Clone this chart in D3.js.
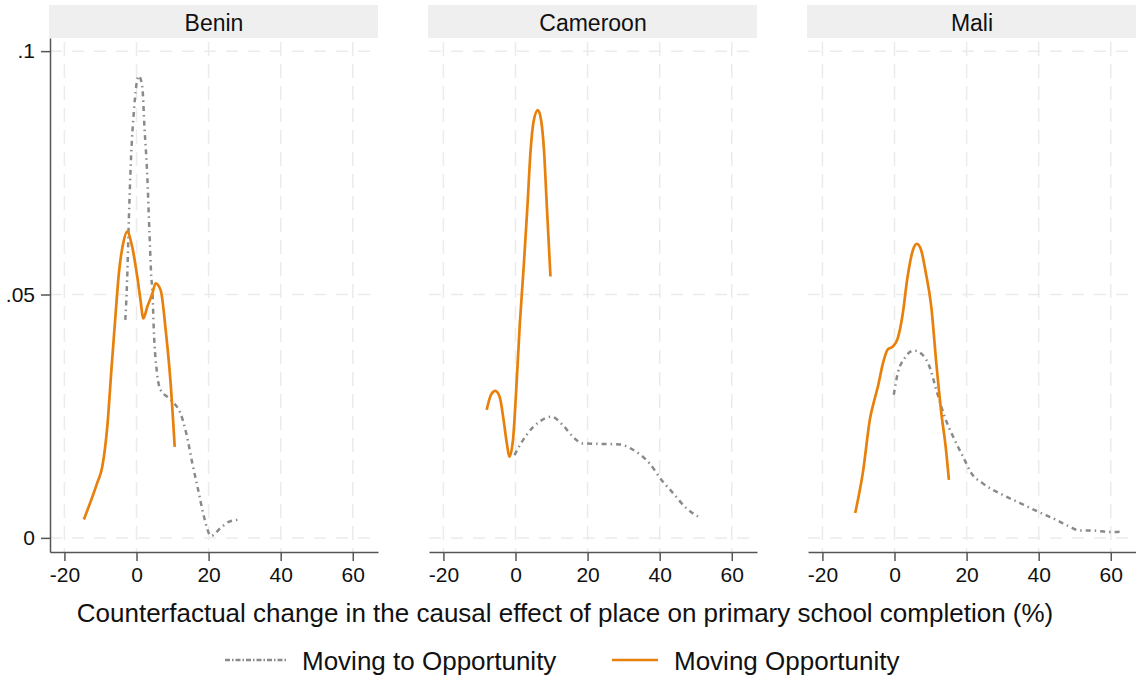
<!DOCTYPE html>
<html>
<head>
<meta charset="utf-8">
<script src="https://cdn.jsdelivr.net/npm/d3@7"></script>
<style>
  body { margin: 0; background: #fff; }
  svg { display: block; font-family: Arial, "Liberation Sans", sans-serif; }
</style>
</head>
<body>
<svg id="chart" width="1136" height="679"></svg>
<script>
// panel names and tick labels
const countries = ["Benin", "Cameroon", "Mali"];
const xTicks = [-20, 0, 20, 40, 60];
const yTicks = [0, 0.05, 0.1];
const yTickLabels = ["0", ".05", ".1"];
const seriesNames = ["Moving to Opportunity", "Moving Opportunity"];
const xTitle = "Counterfactual change in the causal effect of place on primary school completion (%)";

// density curves, [x, density]
const beninMto = [[-3.1, .0448], [-2.6, .053], [-2.1, .066], [-1.5, .0783], [-0.7, .0879], [-0.1, .0927],
  [0.65, .0949], [1.6, .0927], [2.2, .0845], [3.0, .0742], [3.6, .0626], [4.1, .0537], [4.4, .0509],
  [4.8, .0427], [5.7, .0338], [6.7, .0304], [8.5, .029], [10.4, .0277], [12.2, .0256], [13.8, .0215],
  [15.5, .0153], [17.3, .0092], [18.7, .0044], [20.7, .0004], [23.3, .002], [25.6, .0033], [28.0, .0037]];
const beninMo = [[-14.6, .0038], [-10.9, .0113], [-9.5, .0146], [-8.1, .0229], [-6.9, .0352], [-5.8, .046],
  [-4.9, .0543], [-3.7, .0605], [-2.6, .0629], [-1.2, .0598], [0.2, .0537], [1.1, .0489], [1.9, .0451],
  [3.0, .0475], [4.4, .0502], [5.3, .0523], [6.7, .0509], [8.1, .0427], [9.4, .0324], [10.6, .0187]];

const cameroonMto = [[-0.3, .017], [3.0, .0211], [6.7, .0239], [9.9, .0249], [13.1, .0232], [15.9, .0208],
  [18.7, .0194], [24.3, .0193], [28.9, .0192], [32.6, .0181], [37.2, .0153], [40.5, .0119], [43.7, .0092],
  [47.4, .0061], [50.6, .0044]];
const cameroonMo = [[-8.0, .0263], [-6.8, .0294], [-5.6, .0302], [-4.4, .029], [-3.3, .0242], [-2.4, .0194],
  [-1.7, .0167], [-0.7, .0201], [0.2, .0304], [1.2, .0440], [2.3, .0560], [3.3, .068], [4.2, .0797],
  [5.0, .0855], [6.2, .0879], [7.1, .0858], [7.9, .0797], [8.7, .068], [9.7, .0537]];

const maliMto = [[-0.2, .0294], [0.9, .0338], [2.8, .0369], [5.3, .0385], [7.8, .0376], [9.7, .0352],
  [11.6, .0304], [13.9, .0249], [16.7, .0201], [19.0, .0167], [21.3, .0133], [24.5, .0112], [30.1, .0088],
  [34.7, .0072], [39.8, .0054], [44.9, .0037], [48.6, .0023], [51.4, .0015], [55.1, .0015], [59.7, .0012],
  [63.4, .0013]];
const maliMo = [[-10.9, .0051], [-8.8, .0133], [-6.7, .0249], [-5.6, .0283], [-4.6, .0311], [-3.2, .0359],
  [-1.9, .0387], [-0.5, .0393], [0.9, .041], [2.3, .0461], [3.5, .053], [5.1, .0591], [6.2, .0604],
  [7.4, .0591], [8.6, .0548], [10.2, .0475], [11.6, .0359], [13.0, .0256], [14.2, .0187],
  [15.1, .0119]];

const mtoSeries = [beninMto, cameroonMto, maliMto];
const moSeries = [beninMo, cameroonMo, maliMo];

const gray = "#8a8a8a";
const orange = "#e8800c";
const gridColor = "#ebebeb";

const svg = d3.select("#chart");
const panelLeft = [50, 429, 808];
const panelW = 328;
const plotTop = 38, plotBottom = 552;

const y = d3.scaleLinear().domain([-0.0029, 0.1027]).range([plotBottom, plotTop]);

countries.forEach((name, i) => {
  const x0 = panelLeft[i];
  const x = d3.scaleLinear().domain([-24, 67]).range([x0, x0 + panelW]);
  const g = svg.append("g");

  // strip
  g.append("rect")
    .attr("x", x0 - 1).attr("y", 5)
    .attr("width", panelW + 1).attr("height", 33)
    .attr("fill", "#efefef");
  g.append("text")
    .attr("x", x0 + panelW / 2).attr("y", 30.5)
    .attr("text-anchor", "middle")
    .attr("font-size", 23)
    .attr("fill", "#111")
    .text(name);

  // grid
  g.selectAll(".hg").data(yTicks).enter().append("line")
    .attr("x1", x0).attr("x2", x0 + panelW)
    .attr("y1", d => y(d)).attr("y2", d => y(d))
    .attr("stroke", gridColor).attr("stroke-width", 1.5)
    .attr("stroke-dasharray", "12,10");
  g.selectAll(".vg").data(xTicks).enter().append("line")
    .attr("x1", d => x(d)).attr("x2", d => x(d))
    .attr("y1", plotTop + 4).attr("y2", plotBottom)
    .attr("stroke", gridColor).attr("stroke-width", 1.5)
    .attr("stroke-dasharray", "14,8");

  // x axis
  const xa = g.append("g")
    .attr("transform", `translate(0,${plotBottom})`)
    .call(d3.axisBottom(x).tickValues(xTicks).tickFormat(d => String(d))
      .tickSize(9).tickPadding(6).tickSizeOuter(0));
  xa.select(".domain").attr("stroke", "#555").attr("stroke-width", 1.5);
  xa.selectAll(".tick line").attr("stroke", "#555").attr("stroke-width", 1.5);
  xa.selectAll("text").attr("font-size", 21).attr("fill", "#111").attr("font-family", null);

  // y axis only on first panel
  if (i === 0) {
    const ya = g.append("g")
      .attr("transform", `translate(${x0},0)`)
      .call(d3.axisLeft(y).tickValues(yTicks).tickFormat((d, k) => yTickLabels[k])
        .tickSize(9).tickPadding(6).tickSizeOuter(0));
    ya.select(".domain").attr("stroke", "#555").attr("stroke-width", 1.5);
    ya.selectAll(".tick line").attr("stroke", "#555").attr("stroke-width", 1.5);
    ya.selectAll("text").attr("font-size", 21).attr("fill", "#111").attr("font-family", null);
  }

  const line = d3.line()
    .x(d => x(d[0])).y(d => y(d[1]))
    .curve(d3.curveMonotoneX);

  g.append("path")
    .attr("d", line(mtoSeries[i]))
    .attr("fill", "none").attr("stroke", gray)
    .attr("stroke-width", 2.5)
    .attr("stroke-dasharray", "5,4,1.5,4");
  g.append("path")
    .attr("d", line(moSeries[i]))
    .attr("fill", "none").attr("stroke", orange)
    .attr("stroke-width", 2.7);
});

// x title
svg.append("text")
  .attr("x", 565).attr("y", 622)
  .attr("text-anchor", "middle")
  .attr("font-size", 26)
  .attr("fill", "#111")
  .text(xTitle);

// legend
const legend = svg.append("g");
const legendItems = [
  { name: seriesNames[0], color: gray, dash: "5,2,1.5,2", x1: 225, x2: 287, tx: 302 },
  { name: seriesNames[1], color: orange, dash: null, x1: 612, x2: 658, tx: 674 }
];
legendItems.forEach(it => {
  legend.append("line")
    .attr("x1", it.x1).attr("x2", it.x2)
    .attr("y1", 660).attr("y2", 660)
    .attr("stroke", it.color).attr("stroke-width", 2.7)
    .attr("stroke-dasharray", it.dash);
  legend.append("text")
    .attr("x", it.tx).attr("y", 670)
    .attr("font-size", 26)
    .attr("fill", "#111")
    .text(it.name);
});
</script>
</body>
</html>
